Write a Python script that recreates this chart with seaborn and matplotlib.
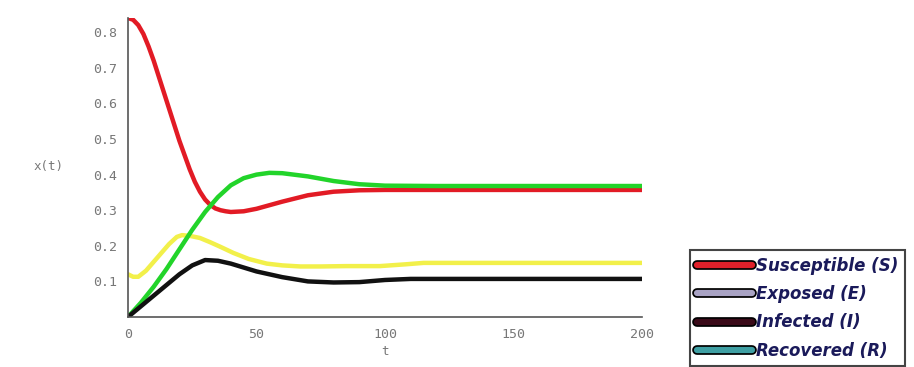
import matplotlib
matplotlib.use("Agg")
import matplotlib.pyplot as plt
import matplotlib.patheffects as pe
from matplotlib.lines import Line2D
from matplotlib.ticker import MultipleLocator
import seaborn as sns
import pandas as pd

# SEIR compartments over time
t_s = [0, 2, 4, 6, 8, 10, 12, 14, 16, 18, 20, 22, 24, 26, 28, 30, 32, 34, 36, 38, 40, 45, 50, 55, 60,
       70, 80, 90, 100, 120, 150, 200]
susceptible = [0.84, 0.835, 0.82, 0.795, 0.76, 0.72, 0.675, 0.63, 0.585, 0.54, 0.495, 0.455, 0.415,
               0.38, 0.352, 0.33, 0.315, 0.305, 0.3, 0.297, 0.295, 0.297, 0.304, 0.314, 0.324,
               0.342, 0.352, 0.356, 0.357, 0.357, 0.357, 0.357]

t_e = [0, 2, 4, 7, 10, 13, 16, 19, 21, 24, 28, 32, 36, 41, 47, 54, 60, 67, 75, 85, 98, 108, 115, 130, 200]
exposed = [0.12, 0.113, 0.113, 0.13, 0.155, 0.18, 0.205, 0.225, 0.23, 0.228, 0.222, 0.21, 0.197, 0.18,
           0.163, 0.15, 0.145, 0.142, 0.142, 0.143, 0.143, 0.148, 0.152, 0.152, 0.152]

t_i = [0, 5, 10, 15, 20, 25, 30, 35, 40, 50, 60, 70, 80, 90, 100, 110, 150, 200]
infected = [0.0, 0.03, 0.06, 0.09, 0.12, 0.145, 0.16, 0.158, 0.15, 0.128, 0.112, 0.1, 0.097, 0.098,
            0.104, 0.107, 0.107, 0.107]

t_r = [0, 5, 10, 15, 20, 25, 30, 35, 40, 45, 50, 55, 60, 70, 80, 90, 100, 120, 150, 200]
recovered = [0.0, 0.04, 0.085, 0.135, 0.19, 0.245, 0.295, 0.337, 0.37, 0.39, 0.4, 0.405, 0.404, 0.395,
             0.382, 0.373, 0.369, 0.368, 0.368, 0.368]

legend_labels = ["Susceptible (S)", "Exposed (E)", "Infected (I)", "Recovered (R)"]
legend_colors = ["#e0202a", "#a9a3c4", "#3a0a18", "#3f9fa3"]

x_ticks = [0, 50, 100, 150, 200]
y_ticks = [0.1, 0.2, 0.3, 0.4, 0.5, 0.6, 0.7, 0.8]

sns.set_style("white")
plt.rcParams["font.family"] = ["DejaVu Sans"]

fig = plt.figure(figsize=(9.14, 3.67), dpi=100)
ax = fig.add_axes([128 / 914, 1 - 317 / 367, (642 - 128) / 914, (317 - 18) / 367])

curves = [
    (t_e, exposed, "#f2f04a"),
    (t_s, susceptible, "#e21b25"),
    (t_r, recovered, "#22d42a"),
    (t_i, infected, "#111111"),
]
for tt, vals, col in curves:
    df = pd.DataFrame({"t": tt, "x": vals})
    sns.lineplot(data=df, x="t", y="x", ax=ax, color=col, linewidth=3.2,
                 solid_capstyle="round", solid_joinstyle="round", legend=False)

ax.set_xlim(0, 200)
ax.set_ylim(0, 0.84)
ax.set_xticks(x_ticks)
ax.set_xticklabels([str(v) for v in x_ticks])
ax.set_yticks(y_ticks)
ax.set_yticklabels([f"{v:.1f}" for v in y_ticks])
ax.xaxis.set_minor_locator(MultipleLocator(10))
ax.yaxis.set_minor_locator(MultipleLocator(0.05))

for side in ("top", "right"):
    ax.spines[side].set_visible(False)
for side in ("left", "bottom"):
    ax.spines[side].set_color("#555555")
    ax.spines[side].set_linewidth(1.2)

tick_font = {"family": "DejaVu Sans Mono", "size": 9.5}
ax.tick_params(which="major", direction="inout", length=6, width=1, color="#555555",
               labelcolor="#777777", pad=5)
ax.tick_params(which="minor", direction="inout", length=3, width=0.8, color="#777777")
for lab in ax.get_xticklabels() + ax.get_yticklabels():
    lab.set_fontfamily(tick_font["family"])
    lab.set_fontsize(tick_font["size"])

ax.set_xlabel("t", fontsize=9, color="#777777", labelpad=3, fontfamily="DejaVu Sans Mono")
ax.set_ylabel("x(t)", fontsize=9, color="#777777", rotation=0, fontfamily="DejaVu Sans Mono")
ax.yaxis.set_label_coords(-0.155, 0.48)

handles = [
    Line2D([0], [0], color=c, linewidth=4.5,
           path_effects=[pe.Stroke(linewidth=7, foreground="black"), pe.Normal()])
    for c in legend_colors
]
leg = fig.legend(handles, legend_labels, loc="upper left",
                 bbox_to_anchor=(690 / 914, 1 - 250 / 367),
                 frameon=True, fancybox=False, framealpha=1,
                 prop={"size": 12, "weight": "bold", "style": "italic"},
                 handlelength=3.3, handletextpad=0.25, labelspacing=0.62,
                 borderpad=0.4, borderaxespad=0)
leg.get_frame().set_edgecolor("#444444")
leg.get_frame().set_linewidth(1.5)
for txt in leg.get_texts():
    txt.set_color("#1a1a5a")

fig.savefig("out.png", dpi=100)
